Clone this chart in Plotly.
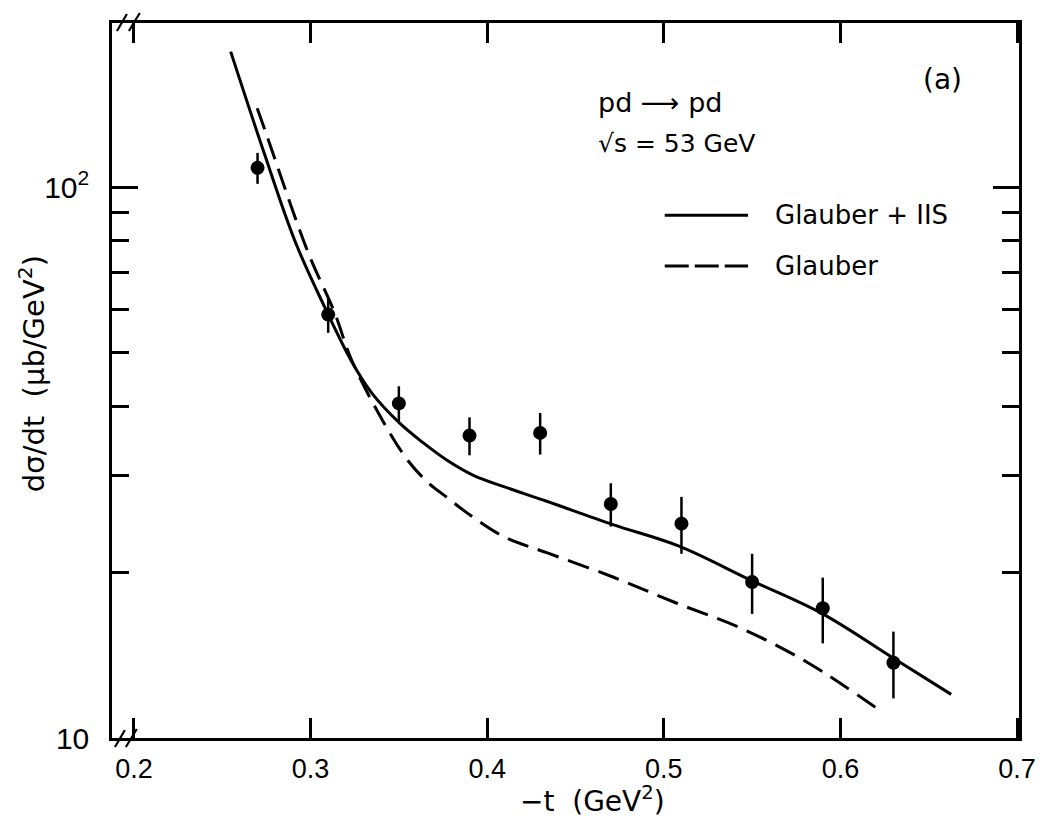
import plotly.graph_objects as go

# ---- data ----
t_data = [0.27, 0.31, 0.35, 0.39, 0.43, 0.47, 0.51, 0.55, 0.59, 0.63]
dsdt_data = [108.4, 58.7, 40.5, 35.4, 35.8, 26.6, 24.5, 19.2, 17.2, 13.7]
dsdt_err = [7.0, 4.3, 3.0, 2.8, 3.1, 2.4, 2.9, 2.4, 2.35, 1.9]

t_glauber_iis = [0.2548, 0.2736, 0.2914, 0.3083, 0.3232, 0.3344, 0.35, 0.3635,
                 0.3775, 0.3925, 0.4094, 0.4337, 0.4712, 0.5086, 0.5498, 0.5899,
                 0.6294, 0.6627]
y_glauber_iis = [176.2, 115.7, 79.5, 60.3, 48.3, 42.4, 37.4, 34.4,
                 31.9, 29.95, 28.6, 26.9, 24.4, 22.3, 19.3, 16.8,
                 14.0, 12.0]

t_glauber = [0.2698, 0.2746, 0.2985, 0.3135, 0.3232, 0.34, 0.3551, 0.3665,
             0.3775, 0.3888, 0.4094, 0.4337, 0.4712, 0.5067, 0.5442, 0.5816, 0.621]
y_glauber = [139.0, 125.8, 76.3, 59.3, 48.6, 38.1, 31.9, 29.1,
             27.3, 25.6, 23.2, 21.7, 19.6, 17.6, 15.8, 13.7, 11.3]

x_ticks = [0.2, 0.3, 0.4, 0.5, 0.6, 0.7]
x_ticklabels = ["0.2", "0.3", "0.4", "0.5", "0.6", "0.7"]
y_major = [10, 100]
y_major_labels = ["10", "10<sup>2</sup>"]
y_minor = [20, 30, 40, 50, 60, 70, 80, 90]

# ---- layout geometry ----
# The page body has an 8px margin, so the figure is drawn 8px in from the
# window corner; the figure is sized so it fills the window exactly.
OFF = 8
W, H = 1048 - OFF, 820 - OFF
PL, PR, PT, PB = 112, 1026, 20, 738          # plot area in window pixels
L, R, T, B = PL - OFF, W - (PR - OFF), PT - OFF, H - (PB - OFF)
PW, PH = PR - PL, PB - PT


def px(xp, yp):
    """window pixel position -> paper coordinates"""
    return (xp - PL) / PW, (PB - yp) / PH


TXT = "DejaVu Sans"
NUM = "Liberation Sans"

fig = go.Figure()

fig.add_trace(go.Scatter(
    x=t_glauber_iis, y=y_glauber_iis, mode="lines", name="Glauber + IIS",
    line=dict(color="black", width=3, shape="spline", smoothing=1.0),
    showlegend=False))
fig.add_trace(go.Scatter(
    x=t_glauber, y=y_glauber, mode="lines", name="Glauber",
    line=dict(color="black", width=3, dash="22px,10px", shape="spline",
              smoothing=1.0),
    showlegend=False))
fig.add_trace(go.Scatter(
    x=t_data, y=dsdt_data, mode="markers", name="data",
    marker=dict(color="black", size=14),
    error_y=dict(type="data", array=dsdt_err, visible=True, color="black",
                 thickness=2.5, width=0),
    showlegend=False))

axis_common = dict(showline=True, linecolor="black", linewidth=2.5,
                   mirror="ticks", ticks="inside", tickcolor="black",
                   tickwidth=2.5, showgrid=False, zeroline=False)

fig.update_xaxes(range=[0.1876, 0.7011], tickvals=x_ticks,
                 ticktext=x_ticklabels, ticklen=20, ticklabelstandoff=5,
                 tickfont=dict(family=NUM, size=27, color="black"),
                 **axis_common)
fig.update_yaxes(type="log", range=[1, 2.298], tickvals=y_major,
                 ticktext=y_major_labels, ticklen=26, ticklabelstandoff=14,
                 tickfont=dict(family=NUM, size=30, color="black"),
                 minor=dict(tickvals=y_minor, ticks="inside", ticklen=17,
                            tickwidth=2.5, tickcolor="black"),
                 **axis_common)

annotations = []


def add_text(text, xp, yp, size, xanchor="left", angle=0):
    xx, yy = px(xp, yp)
    annotations.append(dict(text=text, x=xx, y=yy, xref="paper", yref="paper",
                            xanchor=xanchor, yanchor="middle", showarrow=False,
                            textangle=angle,
                            font=dict(family=TXT, size=size, color="black")))


add_text("(a)", 927, 77, 28)
add_text("pd ⟶ pd", 600, 100, 27)
add_text("√s = 53 GeV", 600, 141, 25)
add_text("Glauber + IIS", 778, 213, 26)
add_text("Glauber", 778, 264, 26)
add_text("−t  (GeV<sup>2</sup>)", 596, 800, 28, xanchor="center")
add_text("dσ/dt  (μb/GeV<sup>2</sup>)", 31, 372, 29, xanchor="center", angle=-90)

shapes = []


def add_line(x0, y0, x1, y1, dash="solid", width=3):
    a0, b0 = px(x0, y0)
    a1, b1 = px(x1, y1)
    shapes.append(dict(type="line", xref="paper", yref="paper",
                       x0=a0, y0=b0, x1=a1, y1=b1,
                       line=dict(color="black", width=width, dash=dash)))


# legend keys
add_line(669, 213, 753, 213)
add_line(669, 264, 753, 264, dash="24px,6px")
# axis break marks
add_line(117, 28, 127, 11, width=2.2)
add_line(129, 28, 140, 10, width=2.2)
add_line(115, 747, 125, 730, width=2.2)
add_line(126, 747, 137, 729, width=2.2)

fig.update_layout(width=W, height=H, margin=dict(l=L, r=R, t=T, b=B),
                  paper_bgcolor="white", plot_bgcolor="white",
                  annotations=annotations, shapes=shapes,
                  font=dict(family=TXT, color="black", size=20))

fig.write_html("out.html")
